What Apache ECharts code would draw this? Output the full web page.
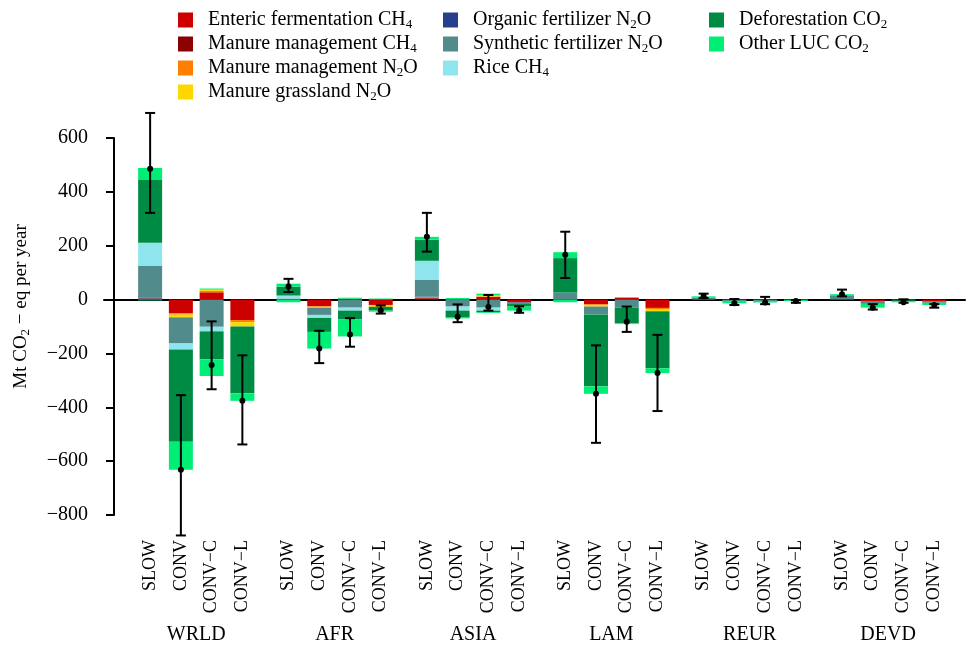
<!DOCTYPE html>
<html>
<head>
<meta charset="utf-8">
<script src="https://cdn.jsdelivr.net/npm/echarts@6/dist/echarts.min.js"></script>
<style>
  html, body { margin: 0; padding: 0; background: #fff; }
  #chart { width: 968px; height: 645px; }
</style>
</head>
<body>
<div id="chart"></div>
<script>
// regions and scenarios, 4 bars per region
var regions = ['WRLD', 'AFR', 'ASIA', 'LAM', 'REUR', 'DEVD'];
var scenarios = ['SLOW', 'CONV', 'CONV\u2212C', 'CONV\u2212L'];
var yTicks = [-800, -600, -400, -200, 0, 200, 400, 600];

// Mt CO2-eq per year, order: WRLD x4, AFR x4, ASIA x4, LAM x4, REUR x4, DEVD x4
var enteric   = [4, -51, 27, -76,   0, -25, 3, -20,   4, 0, 11, -10,   0, -17, 6, -31,   0, 0, 0, 0,   0, -6, 0, -6];
var manureCH4 = [0, 0, 0, 0,        0, 0, 0, 0,       2, 0, 0, 0,      0, 0, 0, 0,       0, 0, 0, 0,   0, -2, 0, -2];
var manureN2O = [0, -5, 5, -8,      0, -2, 0, -2,     3, 0, 0, 0,      0, -3, 0, -4,     0, 0, 0, 0,   0, 0, 0, 0];
var grassN2O  = [0, -10, 5, -16,    0, -3, 0, -5,     0, 0, 4, 0,      0, -6, 0, -8,     0, 0, 0, 0,   0, 0, 0, 0];
var organic   = [4, 0, 0, 0,        0, 0, 0, 0,       2, 0, 0, -2,     0, 0, 0, 0,       0, 0, 0, 0,   0, 0, 0, 0];
var synthetic = [118, -97, -101, 0, 4, -27, -30, 0,   63, -26, -30, -2, 26, -29, -30, 0, 8, -8, -8, 0, 16, -8, -3, -4];
var rice      = [85, -22, -17, 0,   11, -11, -11, 0,  70, -15, -11, 0, 0, 0, 0, 0,       0, 0, 0, 0,   0, 0, 0, 0];
var deforest  = [233, -343, -104, -248, 33, -52, -33, -14, 78, -26, -6, -12, 128, -267, -58, -212, 0, 0, 0, 0, 0, 0, -4, 0];
var otherLuc  = [45, -104, -62, -28, 11, -62, -63, -4, 11, -3, -3, -15, 22, -28, -3, -18, 4, -6, -3, -5, 4, -14, -3, -8];
var otherLuc2 = [-3, 0, 4, 0,       -10, 0, 4, 4,     0, 6, 7, 0,      -10, 0, 3, 0,     0, 0, 0, 0,   0, 0, 0, 0];

// uncertainty range (low, high)
var errLow  = [322, -876, -333, -538, 28, -236, -175, -52, 178, -84, -41, -49, 80, -532, -120, -414, 6, -20, -17, -12, 12, -37, -12, -30];
var errHigh = [693, -355, -81, -207,  77, -116, -69, -22,  322, -18, 17, -25,  252, -170, -26, -131, 22, 2, 10, -2,    37, -17, 1, -17];

var seriesNames = ['Enteric fermentation CH4', 'Manure management CH4', 'Manure management N2O', 'Manure grassland N2O',
                   'Organic fertilizer N2O', 'Synthetic fertilizer N2O', 'Rice CH4', 'Deforestation CO2', 'Other LUC CO2'];
var legendText = ['Enteric fermentation CH{s|4}', 'Manure management CH{s|4}', 'Manure management N{s|2}O', 'Manure grassland N{s|2}O',
                  'Organic fertilizer N{s|2}O', 'Synthetic fertilizer N{s|2}O', 'Rice CH{s|4}', 'Deforestation CO{s|2}', 'Other LUC CO{s|2}'];
var colors = ['#cd0000', '#8b0000', '#ff7f00', '#ffd700', '#27408b', '#528b8b', '#8ee5ee', '#008b45', '#00ee76'];

var FONT = 'Liberation Serif';

// slots on the category axis: 9 per region, bars on every second one
var nSlots = 57;
var slots = [], slotLabel = [], regionLabel = [];
for (var i = 0; i < nSlots; i++) { slots.push('s' + i); slotLabel.push(''); regionLabel.push(''); }
var barSlot = [];
regions.forEach(function (r, g) {
    scenarios.forEach(function (s, k) {
        var p = 3 + 9 * g + 2 * k;
        barSlot.push(p);
        slotLabel[p] = s;
    });
    regionLabel[6 + 9 * g] = r;
});

function toSlots(arr) {
    var out = [];
    for (var i = 0; i < nSlots; i++) out.push(null);
    arr.forEach(function (v, j) { out[barSlot[j]] = v; });
    return out;
}

var comps = [enteric, manureCH4, manureN2O, grassN2O, organic, synthetic, rice, deforest, otherLuc];
var series = comps.map(function (arr, c) {
    return {
        name: seriesNames[c], type: 'bar', stack: 'tot', barWidth: 24,
        itemStyle: { color: colors[c] }, data: toSlots(arr)
    };
});
series.push({
    name: seriesNames[8], type: 'bar', stack: 'tot', barWidth: 24,
    itemStyle: { color: colors[8] }, data: toSlots(otherLuc2)
});

var errData = barSlot.map(function (p, j) {
    var net = 0;
    comps.forEach(function (a) { net += a[j]; });
    net += otherLuc2[j];
    return [p, errLow[j], errHigh[j], net];
});

series.push({
    type: 'custom', z: 10, clip: false,
    encode: { x: 0, y: [1, 2] },
    data: errData,
    renderItem: function (params, api) {
        var x = api.value(0);
        var lo = api.coord([x, api.value(1)]);
        var hi = api.coord([x, api.value(2)]);
        var mid = api.coord([x, api.value(3)]);
        var st = { stroke: '#000', lineWidth: 2 };
        return {
            type: 'group', children: [
                { type: 'line', shape: { x1: lo[0], y1: lo[1], x2: hi[0], y2: hi[1] }, style: st },
                { type: 'line', shape: { x1: lo[0] - 5, y1: lo[1], x2: lo[0] + 5, y2: lo[1] }, style: st },
                { type: 'line', shape: { x1: hi[0] - 5, y1: hi[1], x2: hi[0] + 5, y2: hi[1] }, style: st },
                { type: 'circle', shape: { cx: mid[0], cy: mid[1], r: 3 }, style: { fill: '#000' } }
            ]
        };
    }
});

var richSub = { s: { fontSize: 13, fontFamily: FONT, color: '#000', verticalAlign: 'bottom', lineHeight: 10 } };

function makeLegend(left, from, to) {
    return {
        orient: 'vertical', left: left, top: 4, itemWidth: 15, itemHeight: 15, itemGap: 2,
        icon: 'rect', selectedMode: false,
        data: seriesNames.slice(from, to),
        formatter: function (name) { return legendText[seriesNames.indexOf(name)]; },
        textStyle: { fontFamily: FONT, fontSize: 20, color: '#000', lineHeight: 22, padding: [0, 0, 0, 10], rich: richSub }
    };
}

var chart = echarts.init(document.getElementById('chart'));
chart.setOption({
    animation: false,
    backgroundColor: '#fff',
    legend: [makeLegend(173, 0, 4), makeLegend(438, 4, 7), makeLegend(704, 7, 9)],
    grid: { left: 104, right: 2, top: 138, bottom: 129 },
    xAxis: [
        {
            type: 'category', data: slots, boundaryGap: false,
            axisLine: { onZero: true, lineStyle: { color: '#000', width: 2 } },
            axisTick: { show: false }, axisLabel: { show: false }, splitLine: { show: false }
        },
        {
            type: 'category', data: slots, boundaryGap: false, position: 'bottom',
            axisLine: { show: false }, axisTick: { show: false }, splitLine: { show: false },
            axisLabel: {
                interval: 0, rotate: 90, margin: 25,
                fontFamily: FONT, fontSize: 18, color: '#000',
                formatter: function (v, idx) { return slotLabel[idx]; }
            }
        },
        {
            type: 'category', data: slots, boundaryGap: false, position: 'bottom',
            axisLine: { show: false }, axisTick: { show: false }, splitLine: { show: false },
            axisLabel: {
                interval: 0, margin: 110,
                fontFamily: FONT, fontSize: 20, color: '#000',
                formatter: function (v, idx) { return regionLabel[idx]; }
            }
        }
    ],
    yAxis: {
        type: 'value', min: yTicks[0], max: yTicks[yTicks.length - 1], interval: 200, offset: -10,
        axisLine: { show: true, onZero: false, lineStyle: { color: '#000', width: 2 } },
        axisTick: { show: true, length: 8, lineStyle: { color: '#000', width: 2 } },
        splitLine: { show: false },
        axisLabel: {
            margin: 26, fontFamily: FONT, fontSize: 20, color: '#000',
            formatter: function (v) { return v < 0 ? '\u2212' + Math.abs(v) : String(v); }
        },
        name: 'Mt CO{s|2} \u2212 eq per year',
        nameLocation: 'middle', nameGap: 82, nameRotate: 90,
        nameTextStyle: {
            fontFamily: FONT, fontSize: 19, color: '#000', lineHeight: 22,
            padding: [0, 0, 0, 40], rich: richSub
        }
    },
    series: series
});
</script>
</body>
</html>
